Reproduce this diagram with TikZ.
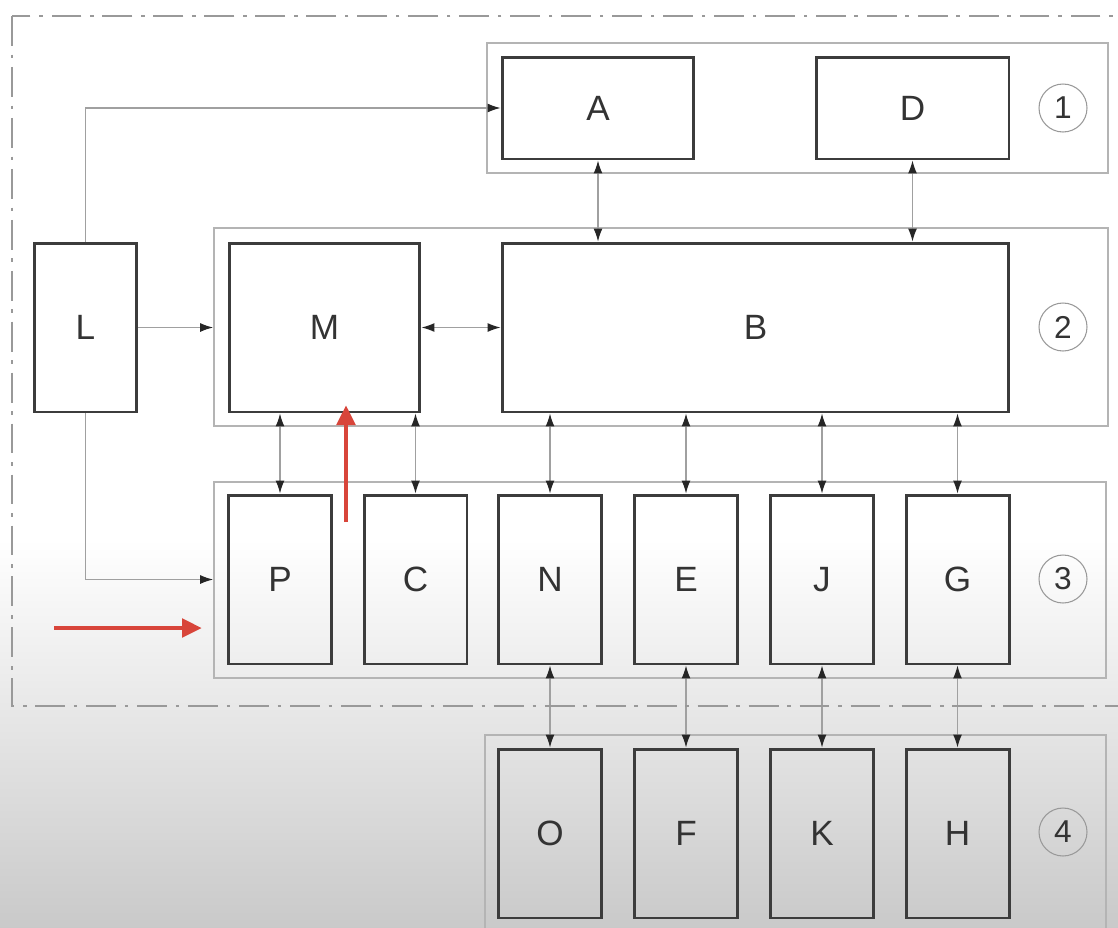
\documentclass[tikz,border=0pt]{standalone}
\usepackage{fontspec}
\setmainfont{Liberation Sans}
\usetikzlibrary{arrows.meta,positioning,calc}

\definecolor{boxline}{HTML}{3C3C3C}
\definecolor{grpline}{HTML}{B4B4B4}
\definecolor{connline}{HTML}{A0A0A0}
\definecolor{redmark}{HTML}{D8453A}

\tikzset{
    blk/.style={draw=boxline, line width=1.7pt, minimum width=2.06cm,
        minimum height=3.38cm, inner sep=0pt, text=black!80,
        font=\fontsize{20}{24}\selectfont},
    grp/.style={draw=grpline, line width=1.1pt, inner sep=0pt},
    conn/.style={draw=connline, line width=0.7pt, -{Latex[length=2.6mm,width=1.8mm,color=black!85]}},
    biconn/.style={draw=connline, line width=0.7pt,
        {Latex[length=2.6mm,width=1.8mm,color=black!85]}-{Latex[length=2.6mm,width=1.8mm,color=black!85]}},
    num/.style={circle, draw=black!40, line width=0.6pt, minimum size=0.96cm,
        inner sep=0pt, text=black!80, font=\fontsize{18}{20}\selectfont},
    redarrow/.style={draw=redmark, line width=2.8pt, -{Triangle[length=4mm,width=3.6mm]}}
}

\begin{document}
\begin{tikzpicture}[x=0.02cm,y=-0.02cm]
    \clip (0,0) rectangle (1118,927);
    % background
    \fill[white] (0,0) rectangle (1118,540);
    \shade[top color=white, bottom color=black!21] (0,539) rectangle (1118,927);

    % Groups
    \node[grp, minimum width=12.42cm, minimum height=2.6cm] (g1) at (797.5,108) {};
    \node[grp, minimum width=17.88cm, minimum height=3.96cm] (g2) at (661,327) {};
    \node[grp, minimum width=17.84cm, minimum height=3.92cm] (g3) at (660,580) {};
    \node[grp, minimum width=12.42cm, minimum height=4.3cm] (g4) at (795.5,842.5) {};

    % Level 1
    \node[blk, minimum width=3.84cm, minimum height=2.04cm] (A) at (598,108) {A};
    \node[blk, minimum width=3.86cm, minimum height=2.04cm] (D) at (912.5,108) {D};

    % Level 2
    \node[blk] (L) at (85.5,327.5) {L};
    \node[blk, minimum width=3.82cm] (M) at (324.5,327.5) {M};
    \node[blk, minimum width=10.14cm] (B) at (755.5,327.5) {B};

    % Level 3
    \node[blk] (P) at (280,579.5) {P};
    \node[blk] (C) at (415.5,579.5) {C};
    \node[blk] (N) at (550,579.5) {N};
    \node[blk] (E) at (686,579.5) {E};
    \node[blk] (J) at (822,579.5) {J};
    \node[blk] (G) at (957.5,579.5) {G};

    % Level 4
    \node[blk] (O) at (550,833.5) {O};
    \node[blk] (F) at (686,833.5) {F};
    \node[blk] (K) at (822,833.5) {K};
    \node[blk] (H) at (957.5,833.5) {H};

    % Level numbers
    \node[num] (n1) at (1063,108) {1};
    \node[num] (n2) at (1063,327) {2};
    \node[num] (n3) at (1063,579) {3};
    \node[num] (n4) at (1063,832) {4};

    % Connections from L
    \draw[conn] (L.north) |- (A.west);
    \draw[conn] (L.east) -- (L.east -| g2.west);
    \draw[conn] (L.south) |- (g3.west |- P.west);

    % Connections to B and M
    \draw[biconn] (M.east) -- (B.west);
    \draw[biconn] (A.south) -- (A.south |- B.north);
    \draw[biconn] (D.south) -- (D.south |- B.north);
    \draw[biconn] (P.north) -- (P.north |- M.south);
    \draw[biconn] (C.north) -- (C.north |- M.south);
    \foreach \n in {N,E,J,G}
        \draw[biconn] (\n.north) -- (\n.north |- B.south);

    % Level 3 to level 4
    \foreach \a/\b in {N/O,E/F,J/K,G/H}
        \draw[biconn] (\a.south) -- (\b.north);

    % Marks
    \coordinate (r1s) at (346,522);
    \coordinate (r1e) at (346,405);
    \coordinate (r2s) at (54,628);
    \coordinate (r2e) at (202,628);
    \draw[redarrow] (r1s) -- (r1e);
    \draw[redarrow] (r2s) -- (r2e);

    % Outer frame
    \draw[draw=black!40, line width=1pt, dash pattern=on 17pt off 5pt on 2pt off 5pt]
        (12,16) rectangle (1140,706);
\end{tikzpicture}
\end{document}
